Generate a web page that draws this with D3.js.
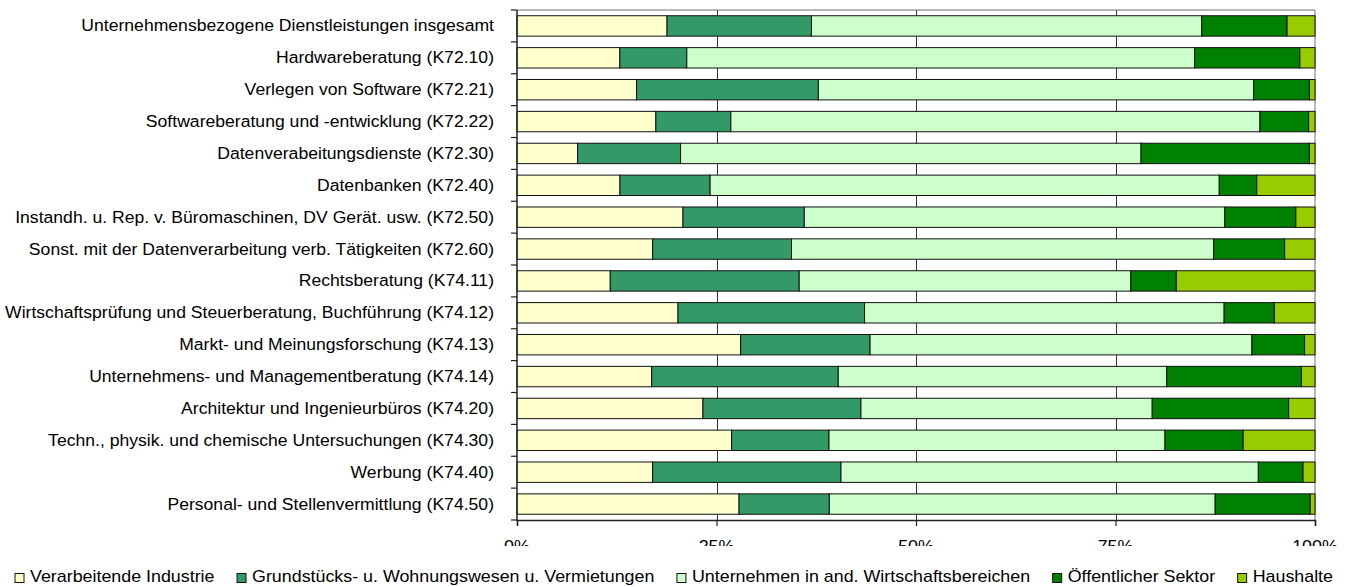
<!DOCTYPE html>
<html>
<head>
<meta charset="utf-8">
<script src="https://cdn.jsdelivr.net/npm/d3@7"></script>
<style>
  html, body { margin: 0; padding: 0; background: #fff; }
  svg { display: block; font-family: "Liberation Sans", Arial, sans-serif; }
</style>
</head>
<body>
<svg id="chart" width="1348" height="587"></svg>
<script>
const categories = [
  "Unternehmensbezogene Dienstleistungen insgesamt",
  "Hardwareberatung (K72.10)",
  "Verlegen von Software (K72.21)",
  "Softwareberatung und -entwicklung (K72.22)",
  "Datenverabeitungsdienste (K72.30)",
  "Datenbanken (K72.40)",
  "Instandh. u. Rep. v. Büromaschinen, DV Gerät. usw. (K72.50)",
  "Sonst. mit der Datenverarbeitung verb. Tätigkeiten (K72.60)",
  "Rechtsberatung (K74.11)",
  "Wirtschaftsprüfung und Steuerberatung, Buchführung (K74.12)",
  "Markt- und Meinungsforschung (K74.13)",
  "Unternehmens- und Managementberatung (K74.14)",
  "Architektur und Ingenieurbüros (K74.20)",
  "Techn., physik. und chemische Untersuchungen (K74.30)",
  "Werbung (K74.40)",
  "Personal- und Stellenvermittlung (K74.50)"
];
const seriesNames = [
  "Verarbeitende Industrie",
  "Grundstücks- u. Wohnungswesen u. Vermietungen",
  "Unternehmen in and. Wirtschaftsbereichen",
  "Öffentlicher Sektor",
  "Haushalte"
];
const seriesColors = ["#FFFFCC", "#339966", "#CCFFCC", "#008000", "#99CC00"];
const verarbeitendeIndustrie = [18.8, 12.9, 15.0, 17.4, 7.6, 12.9, 20.8, 17.0, 11.7, 20.2, 28.0, 16.9, 23.3, 26.9, 17.0, 27.8];
const grundstuecksWesen      = [18.1,  8.4, 22.8,  9.4, 12.9, 11.3, 15.2, 17.4, 23.7, 23.4, 16.2, 23.4, 19.8, 12.2, 23.6, 11.3];
const unternehmenAnd         = [48.9, 63.7, 54.6, 66.3, 57.7, 63.8, 52.7, 52.9, 41.6, 45.1, 47.8, 41.2, 36.5, 42.1, 52.3, 48.3];
const oeffentlicherSektor    = [10.7, 13.2,  7.0,  6.1, 21.1,  4.7,  8.9,  8.9,  5.7,  6.3,  6.6, 16.9, 17.1,  9.8,  5.6, 11.9];
const haushalte              = [ 3.5,  1.9,  0.7,  0.8,  0.7,  7.3,  2.4,  3.8, 17.4,  5.1,  1.3,  1.7,  3.3,  9.0,  1.5,  0.6];
const tickValues = [0, 0.25, 0.5, 0.75, 1];
const tickLabels = ["0%", "25%", "50%", "75%", "100%"];

const seriesValues = [verarbeitendeIndustrie, grundstuecksWesen, unternehmenAnd, oeffentlicherSektor, haushalte];

const svg = d3.select("#chart");
const mLeft = 517, mRight = 1315, mTop = 10, mBottom = 520;
const FS = 17, SX = 1.035, LSX = 1.05;

const rows = categories.map((c, i) => {
  const o = { cat: c };
  seriesNames.forEach((s, j) => o[s] = seriesValues[j][i]);
  return o;
});
const stacked = d3.stack().keys(seriesNames).offset(d3.stackOffsetExpand)(rows);

const x = d3.scaleLinear().domain([0, 1]).range([mLeft, mRight]);
const y = d3.scaleBand().domain(categories).range([mTop, mBottom]).paddingInner(0.36).paddingOuter(0.18);
const step = (mBottom - mTop) / categories.length;

// plot frame (top/right gray)
svg.append("line").attr("x1", mLeft).attr("x2", mRight).attr("y1", mTop).attr("y2", mTop)
  .attr("stroke", "#a0a0a0").attr("stroke-width", 1.5);
svg.append("line").attr("x1", mRight).attr("x2", mRight).attr("y1", mTop).attr("y2", mBottom)
  .attr("stroke", "#a0a0a0").attr("stroke-width", 1.5);

// gridlines
svg.append("g").selectAll("line").data([0.25, 0.5, 0.75]).join("line")
  .attr("x1", d => Math.round(x(d)) + 0.5).attr("x2", d => Math.round(x(d)) + 0.5)
  .attr("y1", mTop).attr("y2", mBottom)
  .attr("stroke", "#333").attr("stroke-width", 1);

// bars
svg.append("g").selectAll("g").data(stacked).join("g")
  .attr("fill", (d, i) => seriesColors[i])
  .selectAll("rect").data(d => d).join("rect")
  .attr("x", d => x(d[0]))
  .attr("width", d => x(d[1]) - x(d[0]))
  .attr("y", d => y(d.data.cat))
  .attr("height", y.bandwidth())
  .attr("stroke", "#111").attr("stroke-width", 1);

// left axis line + ticks at band boundaries
svg.append("line").attr("x1", mLeft).attr("x2", mLeft).attr("y1", mTop).attr("y2", mBottom + 1)
  .attr("stroke", "#222").attr("stroke-width", 1.5);
svg.append("g").selectAll("line").data(d3.range(categories.length + 1)).join("line")
  .attr("x1", mLeft - 6).attr("x2", mLeft)
  .attr("y1", d => mTop + d * step).attr("y2", d => mTop + d * step)
  .attr("stroke", "#222").attr("stroke-width", 1.2);

// category labels
svg.append("g").selectAll("text").data(categories).join("text")
  .attr("transform", d => `translate(${mLeft - 23},${y(d) + y.bandwidth() / 2 + 5.5}) scale(${SX},1)`)
  .attr("text-anchor", "end")
  .attr("font-size", FS).attr("fill", "#000")
  .text(d => d);

// bottom axis
const xAxis = d3.axisBottom(x).tickValues(tickValues).tickFormat((d, i) => tickLabels[i]).tickSize(6).tickPadding(0);
const gx = svg.append("g").attr("transform", `translate(0,${mBottom})`).call(xAxis);
gx.select(".domain").attr("stroke", "#222").attr("stroke-width", 1.5);
gx.selectAll(".tick line").attr("stroke", "#222").attr("stroke-width", 1.2);
gx.selectAll(".tick text").remove();

// tick labels (clipped as in the reference)
svg.append("clipPath").attr("id", "tickclip").append("rect")
  .attr("x", 0).attr("y", 525).attr("width", 1348).attr("height", 21);
svg.append("g").attr("clip-path", "url(#tickclip)")
  .selectAll("text").data(tickValues).join("text")
  .attr("transform", d => `translate(${x(d)},552) scale(${LSX},1)`)
  .attr("text-anchor", "middle")
  .attr("font-size", FS).attr("fill", "#000")
  .text((d, i) => tickLabels[i]);

// legend
const lg = svg.append("g");
const items = lg.selectAll("g").data(seriesNames).join("g");
items.append("rect").attr("width", 9).attr("height", 9).attr("y", 573.5)
  .attr("fill", (d, i) => seriesColors[i]).attr("stroke", "#111").attr("stroke-width", 1);
items.append("text").attr("font-size", FS).attr("fill", "#000").text(d => d)
  .attr("transform", `translate(15,582) scale(${LSX},1)`);
let widths = [];
items.each(function() { widths.push(d3.select(this).select("text").node().getComputedTextLength() * LSX); });
const gapTotal = (1333 - 15) - d3.sum(widths) - 15 * widths.length;
const gap = gapTotal / (widths.length - 1);
let cx = 15;
items.each(function(d, i) {
  d3.select(this).attr("transform", `translate(${cx},0)`);
  cx += 15 + widths[i] + gap;
});
</script>
</body>
</html>
